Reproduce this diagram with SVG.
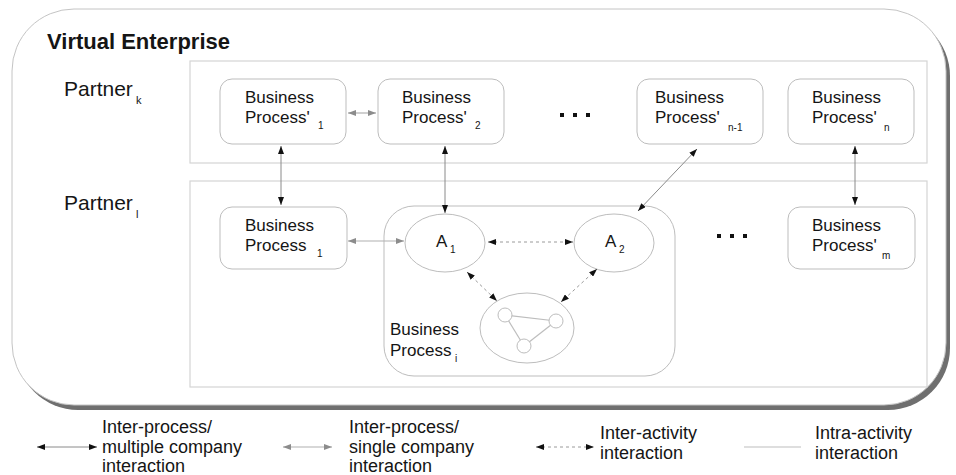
<svg xmlns="http://www.w3.org/2000/svg" width="956" height="475" viewBox="0 0 956 475">
<style>
text{font-family:"Liberation Sans",Arial,sans-serif;fill:#151515}
.box{fill:#fff;stroke:#bdbdbd;stroke-width:1}
.lane{fill:#fff;stroke:#d4d4d4;stroke-width:1.2}
.t{font-size:17px}
.sub{font-size:10px}
.leg{font-size:18px}
.multi{stroke:#8a8a8a;stroke-width:1;fill:none;marker-start:url(#hb);marker-end:url(#hb)}
.single{stroke:#b0b0b0;stroke-width:1.2;fill:none;marker-start:url(#hg);marker-end:url(#hg)}
.act{stroke:#9a9a9a;stroke-width:1;stroke-dasharray:3 3;fill:none;marker-start:url(#hb);marker-end:url(#hb)}
.intra{stroke:#bdbdbd;stroke-width:1.2;fill:none}
</style>
<defs>
<marker id="hb" markerUnits="userSpaceOnUse" markerWidth="8" markerHeight="6" refX="8" refY="3" orient="auto-start-reverse"><path d="M0,0 L8,3 L0,6 z" fill="#111"/></marker>
<marker id="hg" markerUnits="userSpaceOnUse" markerWidth="8" markerHeight="6" refX="8" refY="3" orient="auto-start-reverse"><path d="M0,0 L8,3 L0,6 z" fill="#8c8c8c"/></marker>
</defs>
<rect width="956" height="475" fill="#fff"/>
<g id="virtual-enterprise">
<rect x="16" y="14" width="934" height="396" rx="62" fill="#6f6f6f"/>
<rect x="12" y="9" width="934" height="396" rx="62" fill="#fff" stroke="#c4c4c4" stroke-width="1"/>
<text x="47" y="49" font-size="22" font-weight="bold">Virtual Enterprise</text>
</g>
<g id="partner-k">
<rect class="lane" x="190" y="61" width="737" height="102"/>
<text x="64" y="96" font-size="21">Partner</text>
<text x="136" y="104" font-size="11">k</text>
</g>
<g id="partner-l">
<rect class="lane" x="190" y="181" width="737" height="206"/>
<text x="64" y="210" font-size="21">Partner</text>
<text x="136" y="218" font-size="11">l</text>
</g>
<g id="bp1p">
<rect class="box" x="220" y="79" width="126" height="65" rx="12"/>
<text class="t" x="245" y="103">Business</text>
<text class="t" x="245" y="123">Process'</text>
<text class="sub" x="318" y="129">1</text>
</g>
<g id="bp2p">
<rect class="box" x="378" y="79" width="126" height="65" rx="12"/>
<text class="t" x="402" y="103">Business</text>
<text class="t" x="402" y="123">Process'</text>
<text class="sub" x="475" y="129">2</text>
</g>
<g id="dots-k">
<rect x="560" y="113" width="4" height="4" fill="#111"/><rect x="573" y="113" width="4" height="4" fill="#111"/><rect x="586" y="113" width="4" height="4" fill="#111"/>
</g>
<g id="bpn1p">
<rect class="box" x="637" y="79" width="126" height="65" rx="12"/>
<text class="t" x="655" y="103">Business</text>
<text class="t" x="655" y="123">Process'</text>
<text class="sub" x="728" y="131">n-1</text>
</g>
<g id="bpnp">
<rect class="box" x="788" y="79" width="126" height="65" rx="12"/>
<text class="t" x="812" y="103">Business</text>
<text class="t" x="812" y="123">Process'</text>
<text class="sub" x="884" y="131">n</text>
</g>
<g id="bp1">
<rect class="box" x="220" y="207" width="127" height="62" rx="12"/>
<text class="t" x="245" y="231">Business</text>
<text class="t" x="245" y="251">Process</text>
<text class="sub" x="317" y="257">1</text>
</g>
<g id="bpi">
<rect class="box" x="384" y="206" width="291" height="170" rx="30"/>
<text class="t" x="390" y="335">Business</text>
<text class="t" x="390" y="356">Process</text>
<text class="sub" x="455" y="362">i</text>
</g>
<g id="a1">
<ellipse class="box" cx="445" cy="243" rx="40" ry="29"/>
<text class="t" x="436" y="247">A</text>
<text class="sub" x="450" y="253">1</text>
</g>
<g id="a2">
<ellipse class="box" cx="614" cy="243" rx="40" ry="29"/>
<text class="t" x="605" y="247">A</text>
<text class="sub" x="619" y="253">2</text>
</g>
<g id="subprocess">
<ellipse class="box" cx="527" cy="328" rx="47" ry="35"/>
<line class="intra" x1="505" y1="315" x2="556" y2="321"/>
<line class="intra" x1="505" y1="315" x2="524" y2="346"/>
<line class="intra" x1="556" y1="321" x2="524" y2="346"/>
<circle class="box" cx="505" cy="315" r="7"/>
<circle class="box" cx="556" cy="321" r="7"/>
<circle class="box" cx="524" cy="346" r="7"/>
</g>
<g id="dots-l">
<rect x="717" y="234" width="4" height="4" fill="#111"/><rect x="730" y="234" width="4" height="4" fill="#111"/><rect x="743" y="234" width="4" height="4" fill="#111"/>
</g>
<g id="bpmp">
<rect class="box" x="788" y="207" width="127" height="62" rx="12"/>
<text class="t" x="812" y="231">Business</text>
<text class="t" x="812" y="251">Process'</text>
<text class="sub" x="882" y="259">m</text>
</g>
<g id="connectors">
<line class="multi" x1="281" y1="146" x2="281" y2="205"/>
<line class="multi" x1="445" y1="146" x2="445" y2="213"/>
<line class="multi" x1="697" y1="149" x2="638" y2="211"/>
<line class="multi" x1="855" y1="146" x2="855" y2="205"/>
<line class="single" x1="348" y1="113" x2="376" y2="113"/>
<line class="single" x1="348" y1="241" x2="404" y2="241"/>
<line class="act" x1="488" y1="242" x2="573" y2="242"/>
<line class="act" x1="467" y1="272" x2="497" y2="301"/>
<line class="act" x1="597" y1="269" x2="561" y2="302"/>
</g>
<g id="legend">
<line class="multi" x1="37" y1="447" x2="97" y2="447"/>
<text class="leg" x="102" y="433">Inter-process/</text>
<text class="leg" x="102" y="453">multiple company</text>
<text class="leg" x="102" y="472">interaction</text>
<line class="single" x1="283" y1="447" x2="332" y2="447"/>
<text class="leg" x="349" y="433">Inter-process/</text>
<text class="leg" x="349" y="453">single company</text>
<text class="leg" x="349" y="472">interaction</text>
<line class="act" x1="536" y1="447" x2="594" y2="447"/>
<text class="leg" x="600" y="439">Inter-activity</text>
<text class="leg" x="600" y="459">interaction</text>
<line class="intra" x1="744" y1="447" x2="801" y2="447"/>
<text class="leg" x="815" y="439">Intra-activity</text>
<text class="leg" x="815" y="459">interaction</text>
</g>
</svg>
